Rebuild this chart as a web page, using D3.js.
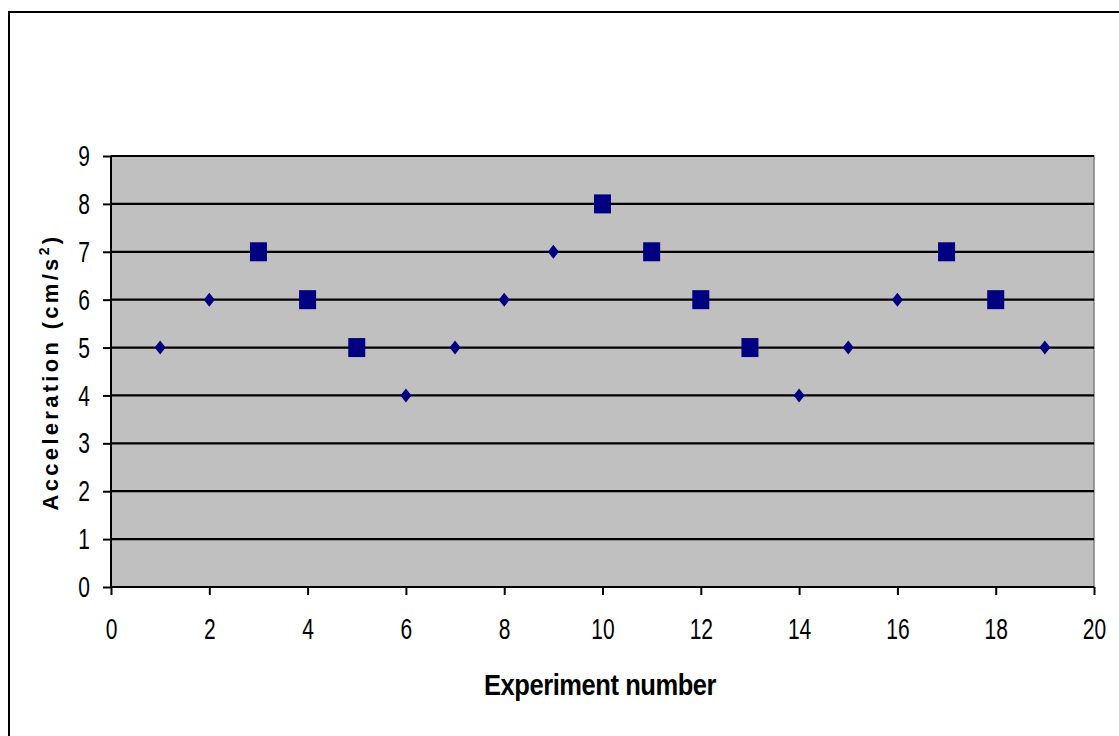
<!DOCTYPE html>
<html>
<head>
<meta charset="utf-8">
<script src="https://cdn.jsdelivr.net/npm/d3@7"></script>
<style>
  body { margin: 0; background: #fff; }
  .axis text { font-family: "Liberation Sans", Arial, sans-serif; font-size: 30px; fill: #000; }
  .axis path, .axis line { stroke: #000; stroke-width: 2; }
</style>
</head>
<body>
<div id="chart"></div>
<script>
// small-marker series (diamonds)
const diamondX = [1, 2, 6, 7, 8, 9, 14, 15, 16, 19];
const diamondY = [5, 6, 4, 5, 6, 7, 4, 5, 6, 5];
// large-marker series (squares)
const squareX = [3, 4, 5, 10, 11, 12, 13, 17, 18];
const squareY = [7, 6, 5, 8, 7, 6, 5, 7, 6];
const xTicks = [0, 2, 4, 6, 8, 10, 12, 14, 16, 18, 20];
const yTicks = [0, 1, 2, 3, 4, 5, 6, 7, 8, 9];

const W = 1119, H = 736;
const box = { left: 111, top: 156, right: 1094, bottom: 587 };
const narrow = 0.7; // squeeze factor to mimic a condensed face

const svg = d3.select("#chart").append("svg")
  .attr("width", W).attr("height", H);

// outer chart border
svg.append("rect")
  .attr("x", 9).attr("y", 12)
  .attr("width", W + 20).attr("height", H + 20)
  .attr("fill", "#fff").attr("stroke", "#000").attr("stroke-width", 2);

const x = d3.scaleLinear().domain([0, 20]).range([box.left, box.right]);
const y = d3.scaleLinear().domain([0, 9]).range([box.bottom, box.top]);

// plot area
svg.append("rect")
  .attr("x", box.left).attr("y", box.top)
  .attr("width", box.right - box.left).attr("height", box.bottom - box.top)
  .attr("fill", "#c0c0c0").attr("stroke", "#808080").attr("stroke-width", 1.5);

// gridlines
svg.append("g").selectAll("line")
  .data(yTicks.filter(d => d > 0))
  .join("line")
  .attr("x1", box.left).attr("x2", box.right)
  .attr("y1", d => y(d)).attr("y2", d => y(d))
  .attr("stroke", "#000").attr("stroke-width", 2.2);

// axes
svg.append("g").attr("class", "axis")
  .attr("transform", "translate(0," + box.bottom + ")")
  .call(d3.axisBottom(x).tickValues(xTicks).tickSize(8).tickPadding(23).tickSizeOuter(0))
  .call(g => g.select(".domain").attr("d", "M" + box.left + ",0H" + box.right))
  .call(g => g.selectAll(".tick text").attr("transform", "scale(" + narrow + ",1)"));

svg.append("g").attr("class", "axis")
  .attr("transform", "translate(" + box.left + ",0)")
  .call(d3.axisLeft(y).tickValues(yTicks).tickSize(8).tickPadding(12).tickSizeOuter(0))
  .call(g => g.select(".domain").attr("d", "M0," + box.top + "V" + box.bottom))
  .call(g => g.selectAll(".tick text")
    .attr("x", -21 / narrow)
    .attr("transform", "scale(" + narrow + ",1)"));

// markers
const navy = "#000080";
svg.append("g").selectAll("path")
  .data(diamondX.map((d, i) => [d, diamondY[i]]))
  .join("path")
  .attr("transform", d => "translate(" + x(d[0]) + "," + y(d[1]) + ")")
  .attr("d", "M0,-7L5.5,0L0,7L-5.5,0Z")
  .attr("fill", navy);

svg.append("g").selectAll("rect")
  .data(squareX.map((d, i) => [d, squareY[i]]))
  .join("rect")
  .attr("x", d => x(d[0]) - 8.5).attr("y", d => y(d[1]) - 9.5)
  .attr("width", 17).attr("height", 19)
  .attr("fill", navy);

// axis titles
svg.append("text")
  .attr("transform", "translate(600,695) scale(0.88,1)")
  .attr("text-anchor", "middle")
  .style("font-family", "\"Liberation Sans\", Arial, sans-serif")
  .style("font-weight", "bold").style("font-size", "29px")
  .style("letter-spacing", "-0.5px")
  .text("Experiment number");

const yt = svg.append("text")
  .attr("transform", "translate(58,372) rotate(-90)")
  .attr("text-anchor", "middle")
  .style("font-family", "\"Liberation Sans\", Arial, sans-serif")
  .style("font-weight", "bold").style("font-size", "22px")
  .style("letter-spacing", "3.3px");
yt.append("tspan").text("Acceleration (cm/s");
yt.append("tspan").attr("dy", -9).style("font-size", "14px").text("2");
yt.append("tspan").attr("dy", 9).text(")");
</script>
</body>
</html>
